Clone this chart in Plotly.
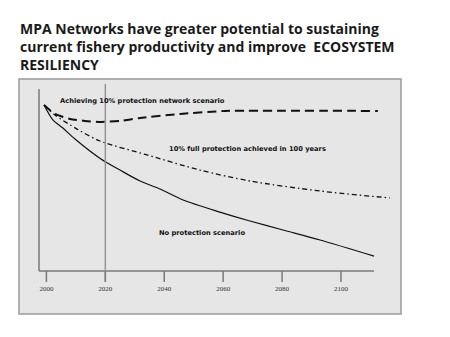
import plotly.graph_objects as go

# Data (years, relative productivity index; start = 100)
no_prot_years = [1999.2, 2002.2, 2005.6, 2009.7, 2018.5, 2025, 2031.8, 2038.6, 2046.4, 2058.9, 2069.1, 2080.3, 2092.9, 2111.2]
no_prot_vals = [100, 91.0, 86.1, 79.5, 67.5, 60.8, 54.2, 49.4, 42.8, 35.5, 30.1, 24.7, 18.7, 9.0]

full100_years = [1999.2, 2002.9, 2010.4, 2018.2, 2034.2, 2052.1, 2069.1, 2092.9, 2116.6]
full100_vals = [100, 94.0, 85.5, 78.3, 69.9, 60.8, 54.2, 48.2, 44.0]

network_years = [1999.2, 2002.9, 2008.0, 2013.1, 2018.5, 2025.0, 2031.8, 2045.4, 2060.6, 2112.5]
network_vals = [100, 94.6, 91.6, 90.4, 89.8, 90.4, 92.2, 94.6, 96.4, 96.4]

tick_years = [2000, 2020, 2040, 2060, 2080, 2100]
tick_labels = ["2000", "2020", "2040", "2060", "2080", "2100"]
marker_year = 2020

title_text = ("MPA Networks have greater potential to sustaining<br>"
              "current fishery productivity and improve \u00a0ECOSYSTEM<br>"
              "RESILIENCY")
label_network = "Achieving 10% protection network scenario"
label_full100 = "10% full protection achieved in 100 years"
label_noprot = "No protection scenario"

W, H = 450, 337
# grey box in pixels (paper area)
BL, BR, BT, BB = 19, 401, 79, 314
AXIS_PX = 271                        # pixel row of the x axis
# pixel -> data mapping
X0PX, XSCALE = 46.4, 2.946          # px of year 2000, px per year
Y100PX = 105                         # px of value 100 (value 0 at AXIS_PX)

x_range = [2000 + (BL - X0PX) / XSCALE, 2000 + (BR - X0PX) / XSCALE]
y_range = [0, (AXIS_PX - BT) / (AXIS_PX - Y100PX) * 100]


def px_x(p):
    return (p - BL) / (BR - BL)


def px_y(p):
    return (BB - p) / (BB - BT)


def year_to_paper(yr):
    return (yr - x_range[0]) / (x_range[1] - x_range[0])


fig = go.Figure()
fig.add_trace(go.Scatter(x=no_prot_years, y=no_prot_vals, mode="lines",
                         line=dict(color="#111", width=1.2, shape="spline", smoothing=0.8), showlegend=False))
fig.add_trace(go.Scatter(x=full100_years, y=full100_vals, mode="lines",
                         line=dict(color="#111", width=1.3, dash="5px,3px,1.5px,3px", shape="spline", smoothing=0.8),
                         showlegend=False))
fig.add_trace(go.Scatter(x=network_years, y=network_vals, mode="lines",
                         line=dict(color="#111", width=2, dash="9px,5px", shape="spline", smoothing=0.6),
                         showlegend=False))
# empty trace on the lower (filler) subplot so its grey background is drawn
fig.add_trace(go.Scatter(x=[], y=[], xaxis="x2", yaxis="y2", showlegend=False, hoverinfo="skip"))

label_font = dict(family="DejaVu Sans", size=6.7, color="#111", weight=700)
axis_col = "#7a7a7a"

shapes = [
    # box border
    dict(type="rect", xref="paper", yref="paper", x0=0, x1=1, y0=0, y1=1,
         line=dict(color="#9a9a9a", width=1.5)),
    # x axis line
    dict(type="line", xref="paper", yref="paper", x0=px_x(39), x1=px_x(374), y0=px_y(AXIS_PX), y1=px_y(AXIS_PX),
         line=dict(color=axis_col, width=1.5)),
    # y axis line
    dict(type="line", xref="paper", yref="paper", x0=px_x(39), x1=px_x(39), y0=px_y(AXIS_PX), y1=px_y(89),
         line=dict(color=axis_col, width=1.5)),
    # 2020 vertical line
    dict(type="line", xref="paper", yref="paper", x0=year_to_paper(marker_year), x1=year_to_paper(marker_year),
         y0=px_y(282), y1=px_y(84), line=dict(color="#959595", width=1.5)),
]
# tick marks below the x axis
for ty in tick_years:
    shapes.append(dict(type="line", xref="paper", yref="paper", x0=year_to_paper(ty), x1=year_to_paper(ty),
                       y0=px_y(282), y1=px_y(AXIS_PX), line=dict(color=axis_col, width=1.5)))

annotations = [
    dict(xref="paper", yref="paper", x=px_x(58), y=px_y(101), text=label_network, showarrow=False,
         xanchor="left", yanchor="middle", font=label_font),
    dict(xref="paper", yref="paper", x=px_x(167), y=px_y(149), text=label_full100, showarrow=False,
         xanchor="left", yanchor="middle", font=label_font),
    dict(xref="paper", yref="paper", x=px_x(157), y=px_y(233), text=label_noprot, showarrow=False,
         xanchor="left", yanchor="middle", font=label_font),
]

fig.update_layout(
    width=W, height=H,
    margin=dict(l=BL, r=W - BR, t=BT, b=H - BB),
    paper_bgcolor="white", plot_bgcolor="#e6e6e6",
    title=dict(text=title_text, xref="container", yref="container", x=20 / W, y=1 - 34 / H,
               xanchor="left", yanchor="top",
               font=dict(family="Open Sans", size=14, color="#1a1a1a", weight=700)),
    shapes=shapes, annotations=annotations,
    xaxis=dict(range=x_range, domain=[0, 1], anchor="y", showgrid=False, zeroline=False, showline=False,
               tickmode="array", tickvals=tick_years, ticktext=tick_labels,
               ticks="outside", ticklen=11, tickwidth=0, tickcolor="rgba(0,0,0,0)",
               tickfont=dict(family="Liberation Serif", size=7, color="#333")),
    yaxis=dict(range=y_range, domain=[px_y(AXIS_PX), 1], anchor="x", showgrid=False, zeroline=False,
               showline=False, showticklabels=False, ticks=""),
    xaxis2=dict(domain=[0, 1], anchor="y2", visible=False, showgrid=False, zeroline=False),
    yaxis2=dict(domain=[0, px_y(AXIS_PX)], anchor="x2", visible=False, showgrid=False, zeroline=False),
)

fig.write_html("out.html")
